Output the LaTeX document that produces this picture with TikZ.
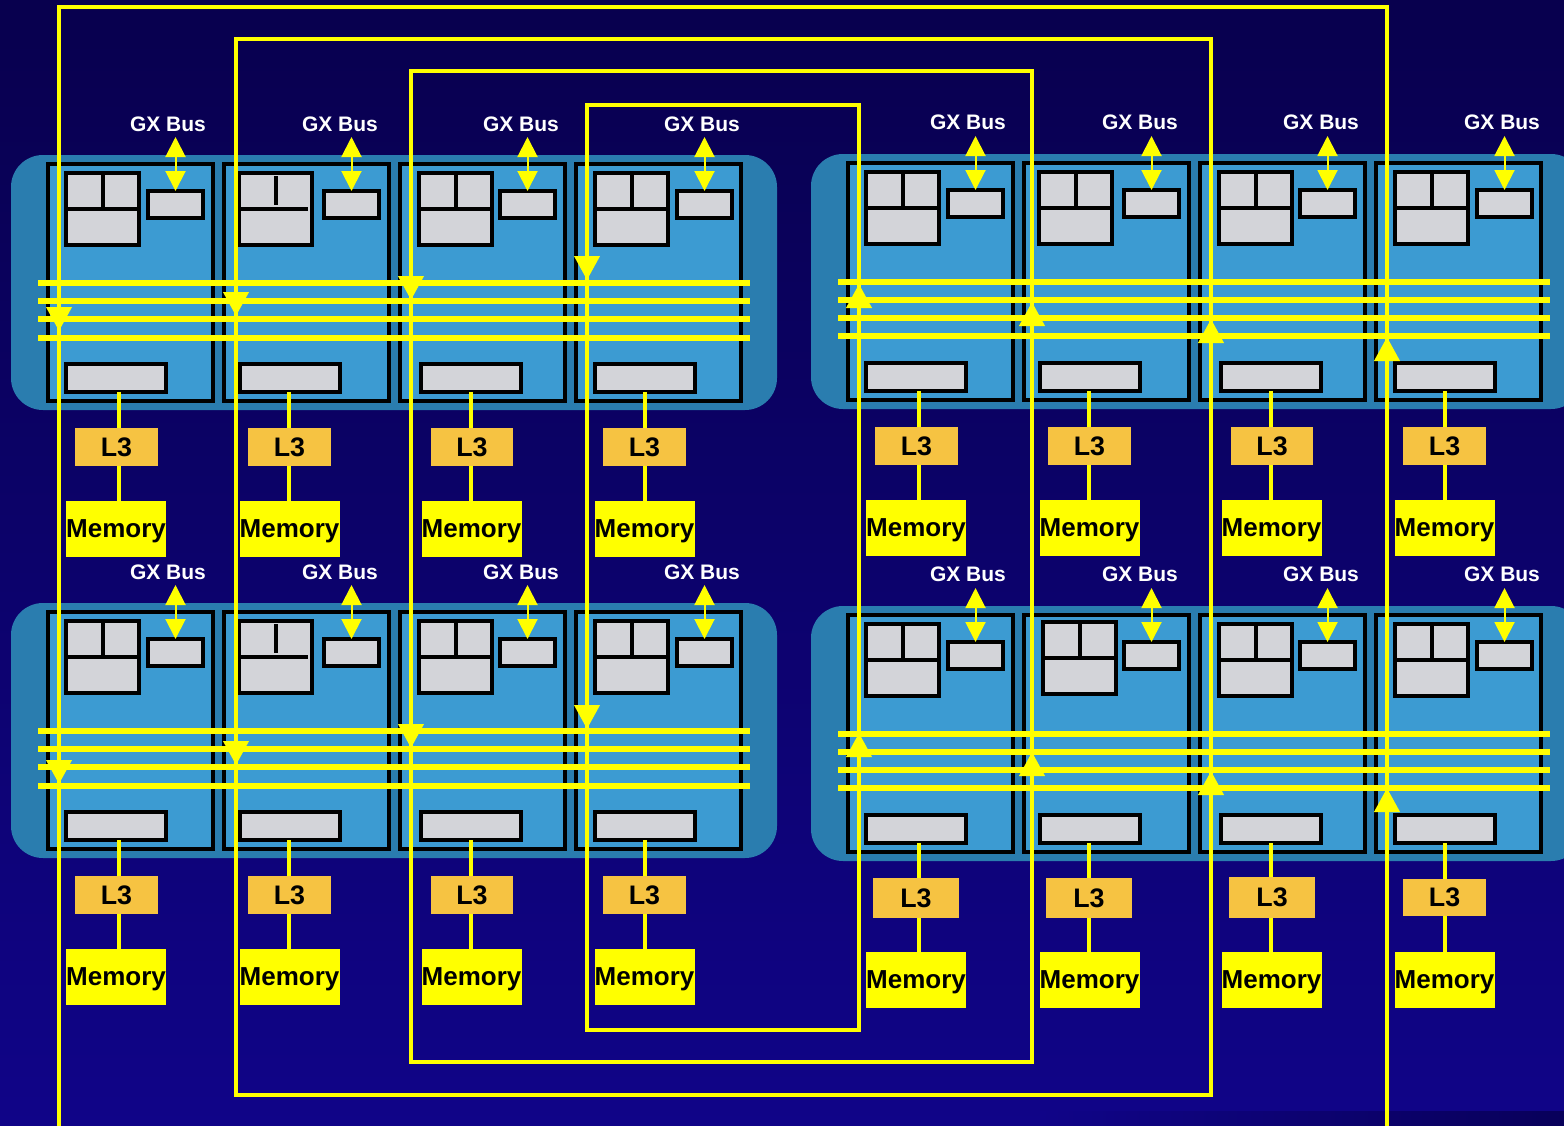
\documentclass[tikz,border=0pt]{standalone}
\usepackage{fontspec}
\setmainfont{Liberation Sans}
\usetikzlibrary{arrows.meta, calc}
\definecolor{ctop}{HTML}{08004E}
\definecolor{cbottom}{HTML}{100488}
\definecolor{cband}{HTML}{08005A}
\definecolor{cpanel}{HTML}{2A7DAF}
\definecolor{cchip}{HTML}{3C9BD2}
\definecolor{cgrey}{HTML}{D3D4D9}
\definecolor{corange}{HTML}{F6C342}
\definecolor{cyellow}{HTML}{FFFF00}
\tikzset{
  every node/.style={inner sep=0pt, outer sep=0pt, anchor=north west},
  panel/.style={fill=cpanel, rounded corners=16pt, minimum height=127.5pt},
  chip/.style={draw=black, fill=cchip, line width=2pt, minimum width=82.5pt, minimum height=118.5pt},
  part/.style={draw=black, fill=cgrey, line width=2pt},
  corebox/.style={part, minimum width=36.5pt, minimum height=36pt},
  gxbox/.style={part, minimum width=27.5pt, minimum height=13.5pt},
  l3bar/.style={part, minimum width=50pt, minimum height=14pt},
  divider/.style={draw=black, line width=2pt},
  l3box/.style={fill=corange, font=\fontsize{13.4}{15}\selectfont\bfseries},
  membox/.style={fill=cyellow, minimum width=50pt, minimum height=28pt, text depth=0pt, font=\fontsize{13}{15}\selectfont\bfseries},
  gxlabel/.style={anchor=center, text=white, font=\fontsize{10.5}{12}\selectfont\bfseries},
  wire/.style={draw=cyellow, line width=2pt},
  gxarrow/.style={draw=cyellow, line width=1pt, {Triangle[length=10pt, width=10pt]}-{Triangle[length=10pt, width=10pt]}},
  busline/.style={draw=cyellow, line width=3pt},
  loopline/.style={draw=cyellow, line width=2pt},
  loophead/.style={draw=cyellow, line width=2pt, -{Triangle[length=12pt, width=12.5pt]}},
}
\begin{document}
\begin{tikzpicture}[x=0.5pt, y=-0.5pt]
  \clip (0,0) rectangle (1564,1125);
  % background
  \shade[top color=ctop, bottom color=cbottom] (0,0) rectangle (1564,1125);
  \shade[left color=cbottom, right color=cband] (1040,1111) rectangle (1564,1125);
  % L3 caches
  \foreach \g/\n/\x/\y/\w/\h in {
    a/1/75/428/83/38, a/2/248/428/83/38, a/3/431/428/82/38, a/4/603/428/83/38,
    b/1/75/876/83/38, b/2/248/876/83/38, b/3/431/876/82/38, b/4/603/876/83/38,
    c/1/875/427/83/38, c/2/1048/427/83/38, c/3/1231/427/82/38, c/4/1403/427/83/38,
    d/1/873/878/86/40, d/2/1046/878/86/40, d/3/1229/877/86/41, d/4/1403/879/83/37}
    \node[l3box, minimum width=\w*0.5pt, minimum height=\h*0.5pt] (l3\g\n) at (\x,\y) {L3};
  % four groups of four chips
  \foreach \g/\ox/\oy/\ty/\pw in {a/0/0/0/383, b/0/448/448/383, c/800/-1/-2/386, d/800/451/450/386} {
    \node[panel, minimum width=\pw pt] (panel\g) at (11+\ox,155+\oy) {};
    \foreach \n/\cx/\sx/\bx/\tx/\tapx/\mx in {
      1/47.5/148/66/168/119/66,
      2/223.5/324/240/340/289/239.5,
      3/399.5/500/421/521/471/421.5,
      4/575.5/677/595/702/645/594.5} {
      \begin{scope}[shift={(\ox,\oy)}]
        \node[chip] (chip\g\n) at (\cx,164) {};
        \node[gxbox] (gx\g\n) at (\sx,191) {};
        \node[l3bar] (bar\g\n) at (\bx,364) {};
        \node[membox] (mem\g\n) at (\mx,501) {Memory};
        \coordinate (tap\g\n) at (\tapx,400);
      \end{scope}
      \node[gxlabel] (label\g\n) at (\tx+\ox,124+\ty) {GX Bus};
      \coordinate (top\g\n) at ($(gx\g\n.north)+(0,-54)$);
      \draw[gxarrow] (top\g\n) -- (gx\g\n.north);
      \draw[wire] (bar\g\n.south -| tap\g\n) -- (l3\g\n.north -| tap\g\n);
      \draw[wire] (l3\g\n.south -| tap\g\n) -- (mem\g\n.north -| tap\g\n);
    }
  }
  % core boxes
  \foreach \g/\n/\x/\y in {
    a/1/66/173, a/2/239/173, a/3/419/173, a/4/595/173,
    b/1/66/621, b/2/239/621, b/3/419/621, b/4/595/621,
    c/1/866/172, c/2/1039/172, c/3/1219/172, c/4/1395/172,
    d/1/866/624, d/2/1043/622, d/3/1219/624, d/4/1395/624}
    \node[corebox] (core\g\n) at (\x,\y) {};
  \foreach \b in {a1,a3,a4,b1,b3,b4,c1,c2,c3,c4,d1,d2,d3,d4} {
    \draw[divider] (core\b.north) -- (core\b.center);
    \draw[divider] (core\b.west) -- (core\b.east);
  }
  \foreach \b in {a2,b2} {
    \draw[divider, shorten <=1.5pt, shorten >=2pt] (core\b.north) -- (core\b.center);
    \draw[divider, shorten >=2pt] (core\b.west) -- (core\b.east);
  }
  % buses
  \foreach \g/\x/\ya/\yb/\yc/\yd in {a/38/283/301/319/338, b/38/731/749/767/786, c/838/282/300/318/336, d/838/734/752/770/788}
    \foreach \y/\i in {\ya/1,\yb/2,\yc/3,\yd/4} {
      \coordinate (bus\g\i w) at (\x,\y);
      \coordinate (bus\g\i e) at (\x+712,\y);
      \draw[busline] (bus\g\i w) -- (bus\g\i e);
    }
  % loops
  \coordinate (loopa1) at (59,1130);
  \coordinate (loopa2) at (59,7);
  \coordinate (loopa3) at (1387,7);
  \coordinate (loopa4) at (1387,1130);
  \draw[loopline] (loopa1) -- (loopa2) -- (loopa3) -- (loopa4);
  \foreach \l/\xa/\ya/\xb/\yb in {b/236/39/1211/1095, c/411/71/1032/1062, d/587/105/859/1030} {
    \coordinate (loop\l nw) at (\xa,\ya);
    \coordinate (loop\l se) at (\xb,\yb);
    \draw[loopline] (loop\l nw) rectangle (loop\l se);
  }
  % heads going down, then going up
  \foreach \x/\y in {59/307, 59/760, 236/292, 236/741, 411/276, 411/724, 587/256, 587/705}
    \draw[loophead] (\x,\y) -- ++(0,24);
  \foreach \x/\y in {859/308, 859/757, 1032/326, 1032/776, 1211/343, 1211/795, 1387/361, 1387/812}
    \draw[loophead] (\x,\y) -- ++(0,-24);
\end{tikzpicture}
\end{document}
